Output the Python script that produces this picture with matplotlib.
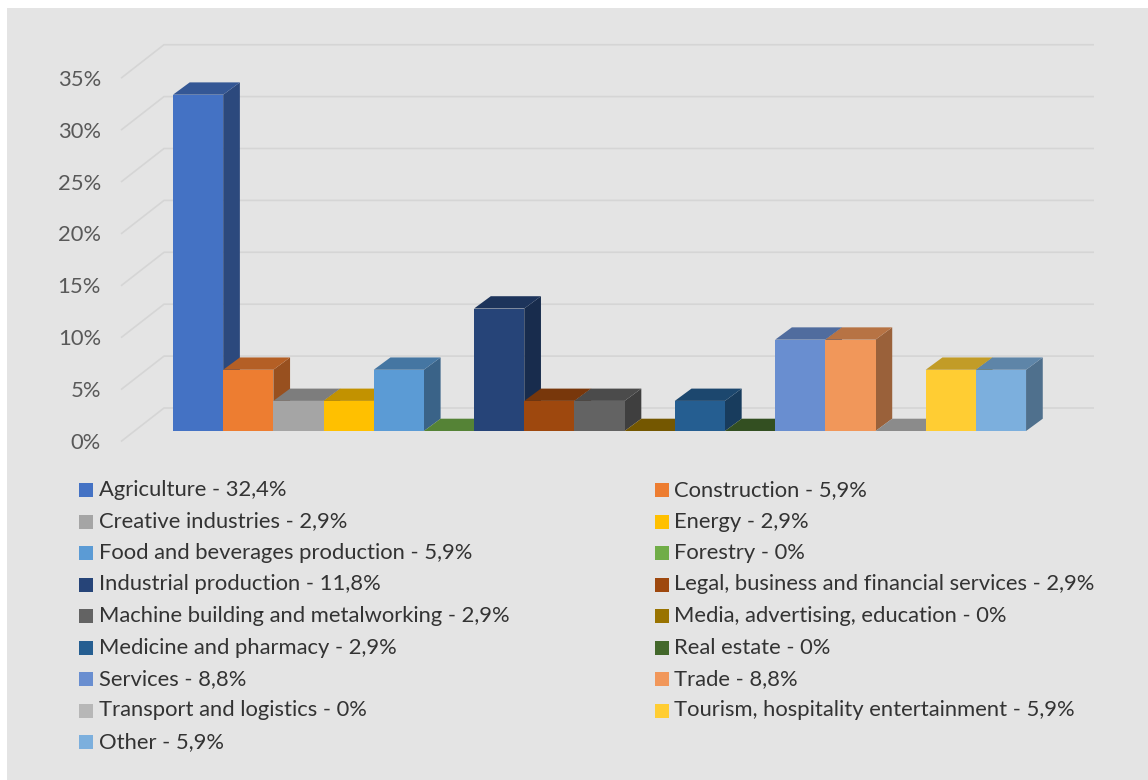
import matplotlib
matplotlib.use("Agg")
import matplotlib.pyplot as plt
from matplotlib.patches import Polygon, Rectangle
from matplotlib.colors import to_rgb

# ---------------- data ----------------
sectors = [
    "Agriculture", "Construction", "Creative industries", "Energy",
    "Food and beverages production", "Forestry", "Industrial production",
    "Legal, business and financial services", "Machine building and metalworking",
    "Media, advertising, education", "Medicine and pharmacy", "Real estate",
    "Services", "Trade", "Transport and logistics",
    "Tourism, hospitality entertainment", "Other",
]
shares = [32.4, 5.9, 2.9, 2.9, 5.9, 0.0, 11.8, 2.9, 2.9, 0.0, 2.9, 0.0,
          8.8, 8.8, 0.0, 5.9, 5.9]
y_ticks = [0, 5, 10, 15, 20, 25, 30, 35]
y_tick_labels = ["0%", "5%", "10%", "15%", "20%", "25%", "30%", "35%"]
colors = [
    "#4472C4", "#ED7D31", "#A5A5A5", "#FFC000", "#5B9BD5", "#70AD47",
    "#264478", "#9E480E", "#636363", "#997300", "#255E91", "#43682B",
    "#698ED0", "#F1975A", "#B7B7B7", "#FFCD33", "#7CAFDD",
]


def pct_text(v):
    if v == 0:
        return "0%"
    return f"{v:.1f}".replace(".", ",") + "%"


legend_labels = [f"{s} - {pct_text(v)}" for s, v in zip(sectors, shares)]

# ---------------- layout (pixels) ----------------
W, H = 1148, 780
X0_PX = 173.0      # left edge of first bar front face
BAR_PX = 50.18     # width of one bar
BASE_PX = 431.0    # baseline of bar front faces
PCT_PX = 10.38     # pixels per percentage point

FONT = ["Lato", "DejaVu Sans"]
FS = 15.8
BG = "#e4e4e4"
GRID = "#d5d5d5"


def shade(c, f):
    r, g, b = to_rgb(c)
    return (r * f, g * f, b * f)


fig = plt.figure(figsize=(W / 100, H / 100), dpi=100)
fig.patch.set_facecolor("white")
# chart area background
fig.patches.append(Rectangle((7 / W, 0), 1 - 7 / W, (H - 8) / H,
                             transform=fig.transFigure, facecolor=BG,
                             edgecolor="none", zorder=-10))

ax = fig.add_axes([0, 0, 1, 1])
ax.set_zorder(1)
ax.set_xlim(-X0_PX / BAR_PX, (W - X0_PX) / BAR_PX)
ax.set_ylim((BASE_PX - H) / PCT_PX, BASE_PX / PCT_PX)
ax.axis("off")
ax.patch.set_alpha(0)

# depth offsets (data units)
bar_dx, bar_dy = 16.7 / BAR_PX, 12.3 / PCT_PX
wall_back_x0 = (164 - X0_PX) / BAR_PX
wall_back_x1 = (1094 - X0_PX) / BAR_PX
wall_back_dy = (BASE_PX - 408) / PCT_PX
wall_front_x = (121 - X0_PX) / BAR_PX
wall_front_dy = (BASE_PX - 441.5) / PCT_PX

# back wall gridlines and floor-side diagonals
for t, lab in zip(y_ticks, y_tick_labels):
    ax.plot([wall_front_x, wall_back_x0, wall_back_x1],
            [t + wall_front_dy, t + wall_back_dy, t + wall_back_dy],
            color=GRID, lw=1.2, solid_capstyle="butt", zorder=1)
    ax.text((101 - X0_PX) / BAR_PX, t + wall_front_dy - 0.15, lab,
            ha="right", va="center", fontsize=FS, color="#595959",
            family=FONT, zorder=1)

# 3D-styled bars, painted left to right
for i, (v, c) in enumerate(zip(shares, colors)):
    z = 2 + i * 0.1
    x0, x1 = i, i + 1
    side = Polygon([(x1, 0), (x1, v), (x1 + bar_dx, v + bar_dy),
                    (x1 + bar_dx, bar_dy)], closed=True,
                   facecolor=shade(c, 0.64), edgecolor="none", zorder=z)
    top = Polygon([(x0, v), (x1, v), (x1 + bar_dx, v + bar_dy),
                   (x0 + bar_dx, v + bar_dy)], closed=True,
                  facecolor=shade(c, 0.76), edgecolor="none", zorder=z + 0.01)
    ax.add_patch(side)
    ax.add_patch(top)
    ax.bar(x0, v, width=1, align="edge", color=c, edgecolor="none",
           zorder=z + 0.02)

# legend, two columns filled row by row
row0, row_step = 490.0, 31.5
cols = [(78.6, 98.6), (655.0, 674.5)]
mk = 14.0
for k, (lab, c) in enumerate(zip(legend_labels, colors)):
    col, row = k % 2, k // 2
    mx, tx = cols[col]
    cy = row0 + row * row_step
    fig.patches.append(Rectangle((mx / W, 1 - (cy + mk / 2) / H), mk / W, mk / H,
                                 transform=fig.transFigure, facecolor=c,
                                 edgecolor="none", zorder=3))
    fig.text(tx / W, 1 - cy / H, lab, ha="left", va="center", fontsize=FS,
             color="#333333", family=FONT, zorder=3)

fig.savefig("out.png", dpi=100, facecolor=fig.get_facecolor())
